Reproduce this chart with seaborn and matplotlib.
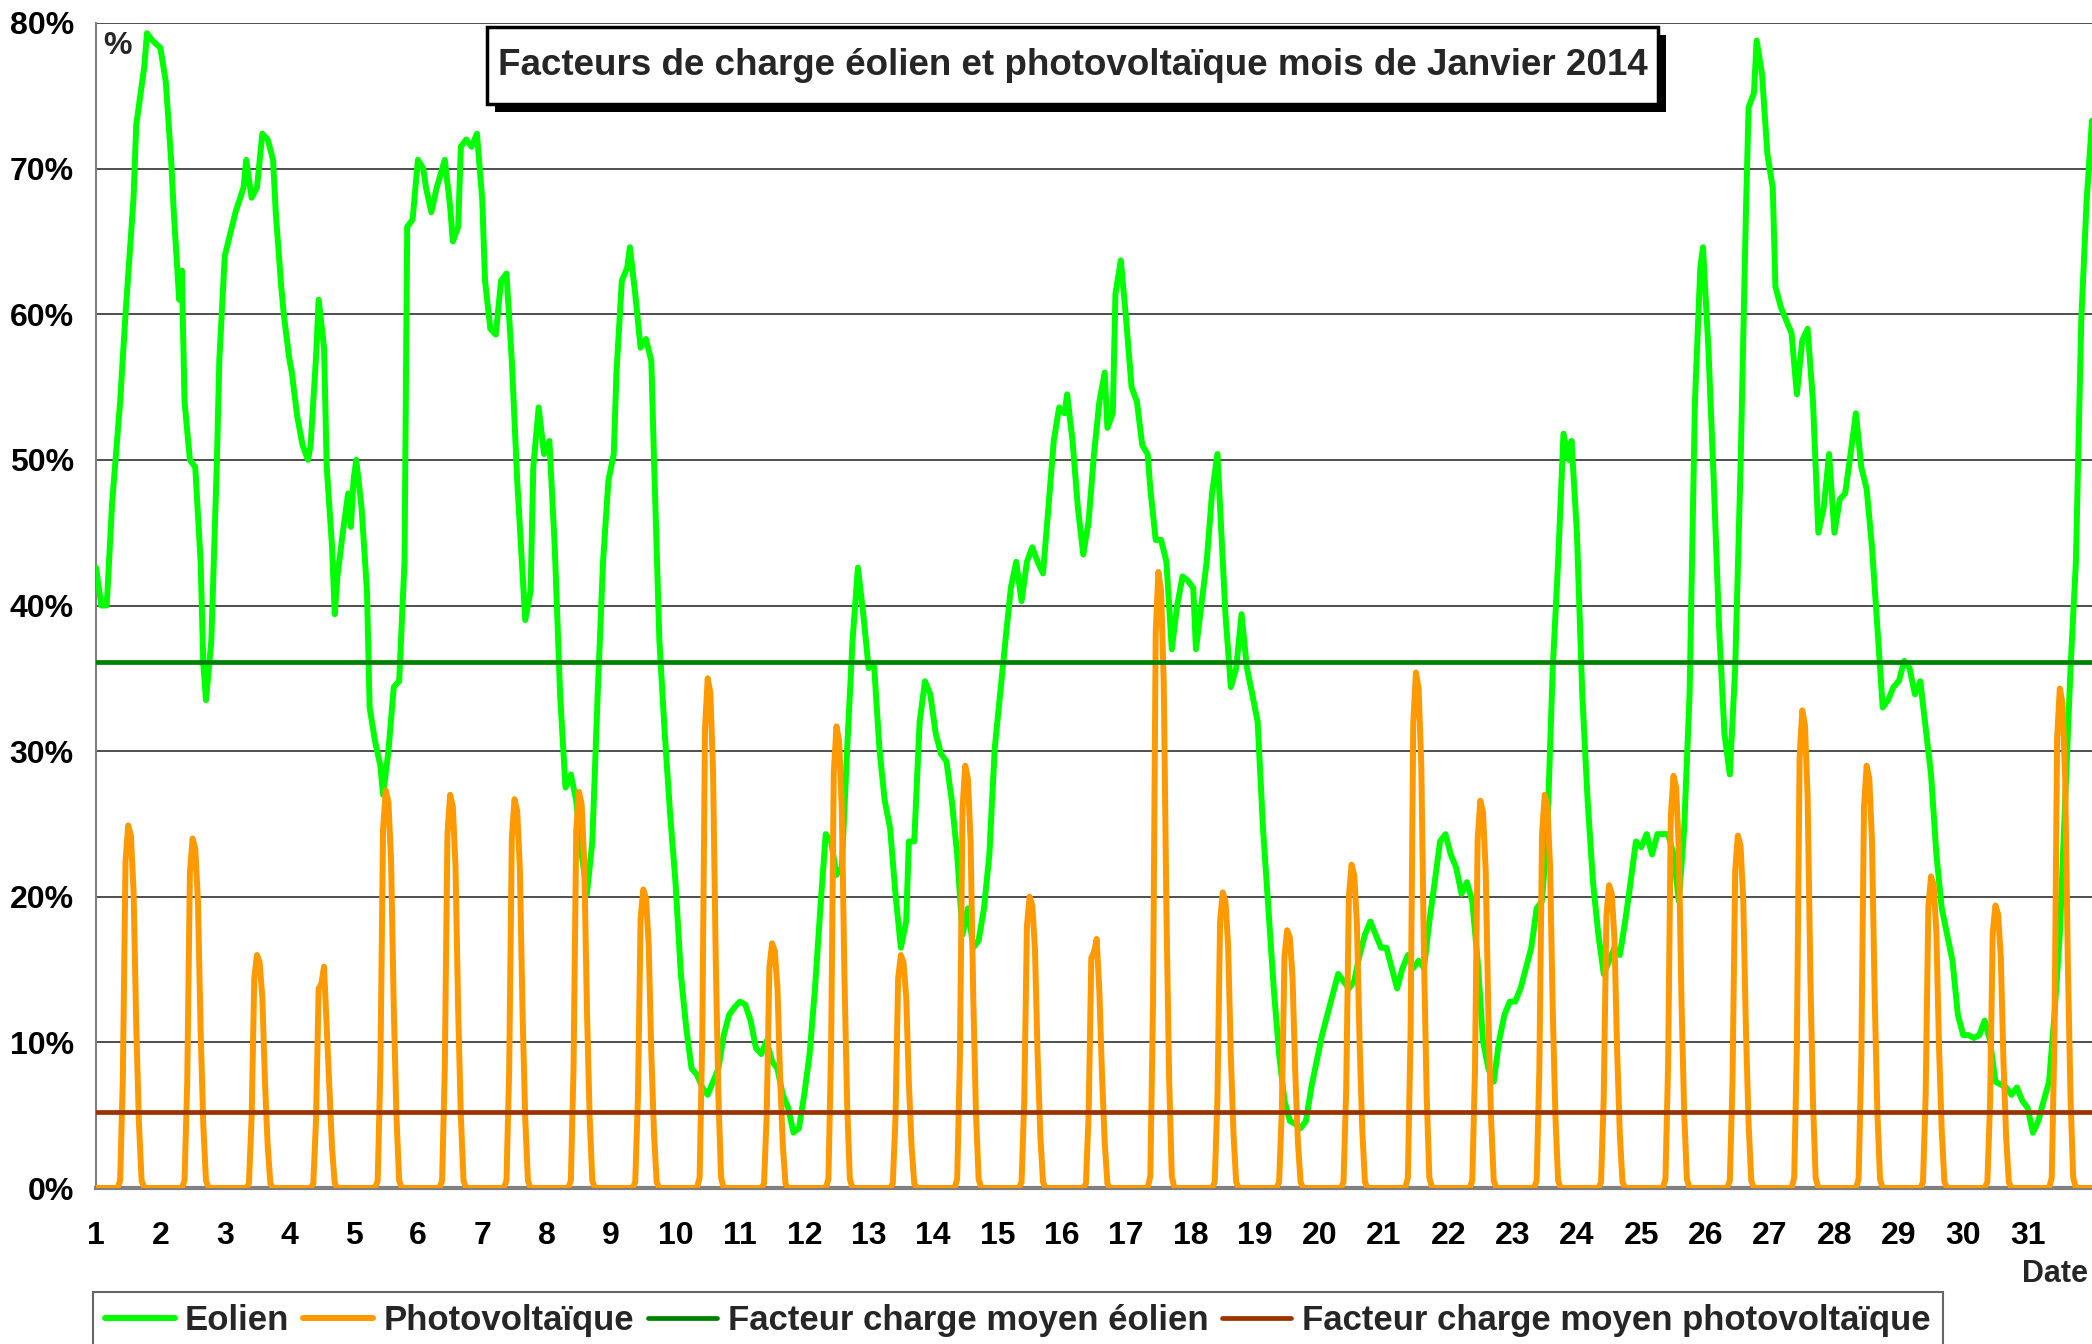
import numpy as np
import pandas as pd
import matplotlib
matplotlib.use('Agg')
import matplotlib.pyplot as plt
from matplotlib.patches import Rectangle
from matplotlib.lines import Line2D
import seaborn as sns

# Wind load factor (%) : (hours since 1 Jan 00:00, value)
wind_points = [
    (0, 42.6), (2, 40.0), (4, 40.0), (6, 47.0), (9, 54.0), (11, 60.0), (14, 68.0), (15, 73.0),
    (18, 77.0), (19, 79.3), (21, 78.8), (24, 78.3), (26, 76.0), (28, 70.6), (29, 67.0), (31, 61.0),
    (32, 63.0), (33, 54.0), (35, 50.0), (37, 49.5), (39, 43.0), (40, 36.0), (41, 33.5), (43, 37.6),
    (45, 49.5), (46, 57.0), (48, 64.0), (50, 65.5), (52, 67.0), (55, 68.7), (56, 70.6), (58, 68.0),
    (60, 68.7), (62, 72.4), (64, 72.0), (66, 70.6), (67, 67.0), (69, 62.0), (70, 60.0), (72, 57.0),
    (73, 56.0), (75, 53.0), (77, 51.0), (79, 50.0), (80, 51.0), (82, 57.0), (83, 61.0), (85, 57.7),
    (86, 49.5), (88, 44.0), (89, 39.4), (90, 42.0), (92, 45.0), (94, 47.7), (95, 45.4), (96, 48.6),
    (97, 50.0), (99, 46.7), (101, 41.0), (102, 33.0), (104, 30.7), (106, 29.0), (107, 27.0), (109, 30.0),
    (111, 34.4), (113, 34.8), (115, 43.0), (116, 66.0), (118, 66.5), (120, 70.6), (122, 70.0), (123, 68.7),
    (125, 67.0), (127, 68.7), (130, 70.6), (132, 67.4), (133, 65.0), (135, 66.0), (136, 71.5), (138, 72.0),
    (140, 71.5), (142, 72.4), (144, 67.8), (145, 62.3), (147, 59.0), (149, 58.6), (151, 62.3), (153, 62.8),
    (155, 56.8), (157, 48.6), (160, 39.0), (162, 41.0), (163, 49.5), (165, 53.6), (167, 50.4), (169, 51.3),
    (171, 44.0), (173, 33.9), (175, 27.5), (177, 28.4), (179, 26.6), (181, 23.0), (183, 20.2), (185, 23.8),
    (187, 33.9), (189, 43.0), (191, 48.6), (193, 50.4), (194, 56.0), (196, 62.3), (198, 63.2), (199, 64.6),
    (201, 61.4), (203, 57.7), (205, 58.3), (207, 56.8), (208, 50.0), (210, 37.6), (212, 31.2), (214, 25.7),
    (216, 21.0), (218, 14.7), (220, 11.0), (222, 8.2), (224, 7.8), (226, 6.9), (228, 6.4), (230, 7.3),
    (232, 8.2), (234, 10.5), (236, 11.9), (238, 12.4), (240, 12.8), (242, 12.6), (244, 11.5), (246, 9.6),
    (248, 9.2), (250, 10.1), (252, 8.7), (254, 8.2), (256, 6.4), (258, 5.5), (260, 3.8), (262, 4.1),
    (264, 6.4), (266, 9.2), (268, 13.7), (270, 19.2), (272, 24.3), (274, 23.8), (276, 21.5), (278, 22.0),
    (280, 30.2), (282, 37.6), (284, 42.6), (286, 39.4), (288, 35.7), (290, 36.0), (292, 30.2), (294, 26.6),
    (296, 24.7), (298, 20.2), (300, 16.5), (302, 18.3), (303, 23.8), (305, 23.8), (307, 32.0), (309, 34.8),
    (311, 33.9), (313, 31.2), (315, 29.8), (317, 29.3), (319, 26.6), (321, 22.9), (323, 17.4), (325, 19.2),
    (327, 16.5), (329, 17.0), (331, 19.2), (333, 22.9), (335, 30.2), (337, 33.9), (339, 37.6), (341, 41.2),
    (343, 43.0), (345, 40.3), (347, 43.0), (349, 44.0), (351, 43.0), (353, 42.2), (355, 46.7), (357, 51.3),
    (359, 53.6), (361, 53.2), (362, 54.5), (364, 51.3), (366, 46.7), (368, 43.5), (370, 45.8), (372, 50.4),
    (374, 54.0), (376, 56.0), (377, 52.2), (379, 53.2), (380, 61.4), (382, 63.7), (384, 59.6), (386, 55.0),
    (388, 54.0), (390, 51.0), (392, 50.4), (393, 48.0), (395, 44.5), (397, 44.5), (399, 43.0), (401, 37.0),
    (403, 40.0), (405, 42.0), (407, 41.7), (409, 41.2), (410, 37.0), (412, 40.0), (414, 43.0), (416, 47.7),
    (418, 50.4), (419, 46.7), (421, 39.4), (423, 34.4), (425, 35.7), (427, 39.4), (429, 35.7), (431, 33.9),
    (433, 32.0), (435, 24.7), (437, 19.2), (439, 13.7), (441, 9.2), (443, 6.0), (445, 4.6), (447, 4.4),
    (449, 4.1), (451, 4.6), (453, 6.9), (455, 8.7), (457, 10.5), (459, 11.9), (461, 13.3), (463, 14.7),
    (465, 14.2), (467, 13.7), (469, 14.2), (471, 16.0), (473, 17.4), (475, 18.3), (477, 17.4), (479, 16.5),
    (481, 16.5), (483, 15.1), (485, 13.7), (487, 15.1), (489, 16.0), (491, 15.1), (493, 15.6), (495, 15.1),
    (497, 18.3), (499, 21.0), (501, 23.8), (503, 24.3), (505, 22.9), (507, 22.0), (509, 20.2), (511, 21.0),
    (513, 19.7), (515, 15.6), (517, 10.1), (519, 8.2), (521, 7.3), (523, 10.1), (525, 11.9), (527, 12.8),
    (529, 12.8), (531, 13.7), (533, 15.1), (535, 16.5), (537, 19.2), (539, 19.7), (541, 24.7), (543, 35.7),
    (545, 43.0), (547, 51.8), (549, 50.0), (550, 51.3), (552, 45.0), (554, 33.9), (556, 26.6), (558, 21.0),
    (560, 17.4), (562, 14.7), (564, 15.6), (566, 16.5), (568, 16.0), (570, 18.3), (572, 21.0), (574, 23.8),
    (576, 23.4), (578, 24.3), (580, 22.9), (582, 24.3), (584, 24.3), (586, 24.3), (588, 22.9), (590, 19.7),
    (592, 24.7), (594, 33.9), (596, 54.0), (598, 63.2), (599, 64.6), (601, 57.7), (603, 48.6), (605, 38.5),
    (607, 31.2), (609, 28.4), (611, 35.7), (613, 49.5), (615, 67.0), (616, 74.2), (618, 75.2), (619, 78.8),
    (621, 76.5), (623, 71.0), (625, 68.7), (626, 61.9), (628, 60.5), (630, 59.6), (632, 58.7), (634, 54.5),
    (636, 58.2), (638, 59.0), (640, 54.0), (642, 45.0), (644, 46.7), (646, 50.4), (648, 45.0), (650, 47.3),
    (652, 47.7), (654, 50.4), (656, 53.2), (658, 49.5), (660, 48.0), (662, 44.0), (664, 38.5), (666, 33.0),
    (668, 33.5), (670, 34.4), (672, 34.8), (674, 36.2), (676, 35.7), (678, 33.9), (680, 34.8), (682, 31.6),
    (684, 28.4), (686, 22.9), (688, 19.2), (690, 17.4), (692, 15.6), (694, 11.9), (696, 10.5), (698, 10.5),
    (700, 10.3), (702, 10.5), (704, 11.5), (706, 10.1), (708, 7.3), (710, 7.1), (712, 6.9), (714, 6.4),
    (716, 6.9), (718, 6.0), (720, 5.5), (722, 3.8), (724, 4.6), (726, 6.0), (728, 7.3), (730, 11.9),
    (732, 17.4), (734, 26.6), (736, 35.7), (738, 43.0), (740, 59.6), (742, 67.8), (744, 73.3),
]

# PV load factor (%) for hours 9h..17h of each day of January, zero the rest of the time
pv_first_hour = 9
pv_days = [
    [0.5, 7.5, 22.4, 24.9, 24.2, 20.4, 11.2, 4.5, 0.5],
    [0.5, 7.2, 21.6, 24.0, 23.3, 19.7, 10.8, 4.3, 0.5],
    [0.3, 4.8, 14.4, 16.0, 15.5, 13.1, 7.2, 2.9, 0.3],
    [0.3, 4.6, 13.7, 14.0, 15.2, 11.0, 6.8, 2.7, 0.3],
    [0.5, 8.2, 24.6, 27.3, 26.5, 22.4, 12.3, 4.9, 0.5],
    [0.5, 8.1, 24.3, 27.0, 26.2, 22.1, 12.2, 4.9, 0.5],
    [0.5, 8.0, 24.0, 26.7, 25.9, 21.9, 12.0, 4.8, 0.5],
    [0.5, 8.2, 24.5, 27.2, 26.4, 22.3, 12.2, 4.9, 0.5],
    [0.4, 6.2, 18.5, 20.5, 19.9, 16.8, 9.2, 3.7, 0.4],
    [0.7, 10.5, 31.5, 35.0, 34.0, 28.7, 15.8, 6.3, 0.7],
    [0.3, 5.0, 15.1, 16.8, 16.3, 13.8, 7.6, 3.0, 0.3],
    [0.6, 9.5, 28.5, 31.7, 30.7, 26.0, 14.3, 5.7, 0.6],
    [0.3, 4.8, 14.4, 16.0, 15.5, 13.1, 7.2, 2.9, 0.3],
    [0.6, 8.7, 26.1, 29.0, 28.1, 23.8, 13.1, 5.2, 0.6],
    [0.4, 6.0, 18.0, 20.0, 19.4, 16.4, 9.0, 3.6, 0.4],
    [0.3, 5.1, 15.8, 16.2, 17.1, 13.5, 7.7, 3.1, 0.3],
    [0.8, 12.7, 38.1, 42.3, 41.0, 34.7, 19.0, 7.6, 0.8],
    [0.4, 6.1, 18.3, 20.3, 19.7, 16.6, 9.1, 3.7, 0.4],
    [0.4, 5.3, 15.9, 17.7, 17.2, 14.5, 8.0, 3.2, 0.4],
    [0.4, 6.7, 20.0, 22.2, 21.5, 18.2, 10.0, 4.0, 0.4],
    [0.7, 10.6, 31.9, 35.4, 34.3, 29.0, 15.9, 6.4, 0.7],
    [0.5, 8.0, 23.9, 26.6, 25.8, 21.8, 12.0, 4.8, 0.5],
    [0.5, 8.1, 24.3, 27.0, 26.2, 22.1, 12.2, 4.9, 0.5],
    [0.4, 6.2, 18.7, 20.8, 20.2, 17.1, 9.4, 3.7, 0.4],
    [0.6, 8.5, 25.5, 28.3, 27.5, 23.2, 12.7, 5.1, 0.6],
    [0.5, 7.3, 21.8, 24.2, 23.5, 19.8, 10.9, 4.4, 0.5],
    [0.7, 9.8, 29.5, 32.8, 31.8, 26.9, 14.8, 5.9, 0.7],
    [0.6, 8.7, 26.1, 29.0, 28.1, 23.8, 13.1, 5.2, 0.6],
    [0.4, 6.4, 19.3, 21.4, 20.8, 17.5, 9.6, 3.9, 0.4],
    [0.4, 5.8, 17.5, 19.4, 18.8, 15.9, 8.7, 3.5, 0.4],
    [0.7, 10.3, 30.9, 34.3, 33.3, 28.1, 15.4, 6.2, 0.7],
]

wind_mean = 36.1
pv_mean = 5.2

day_ticks = list(range(1, 32))
pct_ticks = list(range(0, 81, 10))
title = 'Facteurs de charge éolien et photovoltaïque mois de Janvier 2014'
labels = ['Eolien', 'Photovoltaïque', 'Facteur charge moyen éolien',
          'Facteur charge moyen photovoltaïque']
colors = ['#00ff00', '#ff9900', '#008000', '#993300']

# build tables
wind_df = pd.DataFrame(wind_points, columns=['heure', 'fc'])
wind_df['jour'] = 1 + wind_df['heure'] / 24

n_hours = 24 * len(pv_days) + 1
pv_vals = np.zeros(n_hours)
for i, row in enumerate(pv_days):
    start = i * 24 + pv_first_hour
    pv_vals[start:start + len(row)] = row
pv_df = pd.DataFrame({'jour': 1 + np.arange(n_hours) / 24, 'fc': pv_vals})

sns.set_theme(style='white')
plt.rcParams['font.family'] = ['Liberation Sans', 'DejaVu Sans']
plt.rcParams['font.weight'] = 'bold'

W, H = 2092, 1344
fig = plt.figure(figsize=(W / 100, H / 100), dpi=100)
ax = fig.add_axes([96 / W, 1 - 1188 / H, 1 - 96 / W, (1188 - 23) / H])

sns.lineplot(data=wind_df, x='jour', y='fc', ax=ax, color=colors[0], lw=4.3,
             estimator=None, sort=False, zorder=3)
sns.lineplot(data=pv_df, x='jour', y='fc', ax=ax, color=colors[1], lw=4.3,
             estimator=None, sort=False, zorder=4)
ax.axhline(wind_mean, color=colors[2], lw=3.4, zorder=5)
ax.axhline(pv_mean, color=colors[3], lw=3.4, zorder=5)

ax.set_xlim(1, 32)
ax.set_ylim(0, 80)
ax.set_xticks(day_ticks)
ax.set_xticklabels([str(d) for d in day_ticks])
ax.set_yticks(pct_ticks)
ax.set_yticklabels([f'{p}%' for p in pct_ticks])
ax.set_xlabel('')
ax.set_ylabel('')
ax.yaxis.grid(True, color='#404040', lw=1.3, zorder=0)
ax.xaxis.grid(False)
ax.set_axisbelow(True)

for s in ['top', 'right']:
    ax.spines[s].set_visible(False)
ax.spines['left'].set_color('#808080')
ax.spines['left'].set_linewidth(1.5)
ax.spines['bottom'].set_color('#808080')
ax.spines['bottom'].set_linewidth(3)

ax.tick_params(axis='x', direction='out', length=9, width=1.2, color='#606060',
               pad=15, labelsize=23, labelcolor='black')
ax.tick_params(axis='y', direction='out', length=6, width=1.2, color='#606060',
               pad=10, labelsize=23, labelcolor='black')
for lab in ax.get_xticklabels() + ax.get_yticklabels():
    lab.set_fontweight('bold')

# "%" unit label, placed in pixel space
fig.text(118 / W, 1 - 46 / H, '%', fontsize=23, fontweight='bold', ha='center', va='center')

# title box with shadow
bx0, bx1, by0, by1 = 487, 1658, 27, 104
fig.add_artist(Rectangle(((bx0 + 8) / W, 1 - (by1 + 8) / H), (bx1 - bx0) / W, (by1 - by0) / H,
                         transform=fig.transFigure, fc='black', ec='black', lw=0, zorder=6))
fig.add_artist(Rectangle((bx0 / W, 1 - by1 / H), (bx1 - bx0) / W, (by1 - by0) / H,
                         transform=fig.transFigure, fc='white', ec='black', lw=2.5, zorder=7))
fig.text((bx0 + bx1) / 2 / W, 1 - (by0 + by1) / 2 / H, title, ha='center', va='center',
         fontsize=26.5, fontweight='bold', zorder=8)

fig.text(2088 / W, 1 - 1274 / H, 'Date', ha='right', va='center', fontsize=22, fontweight='bold')

handles = [Line2D([], [], color=c, lw=lw) for c, lw in zip(colors, [4.3, 4.3, 3.4, 3.4])]
leg = fig.legend(handles, labels, loc='upper left', bbox_to_anchor=(93 / W, 1 - 1292 / H),
                 ncol=4, frameon=True, fancybox=False, edgecolor='#404040',
                 prop={'size': 25, 'weight': 'bold'}, handlelength=2.0, handletextpad=0.3,
                 columnspacing=0.4, borderpad=0.35, borderaxespad=0)
leg.get_frame().set_linewidth(1.5)

fig.savefig('out.png', dpi=100)
